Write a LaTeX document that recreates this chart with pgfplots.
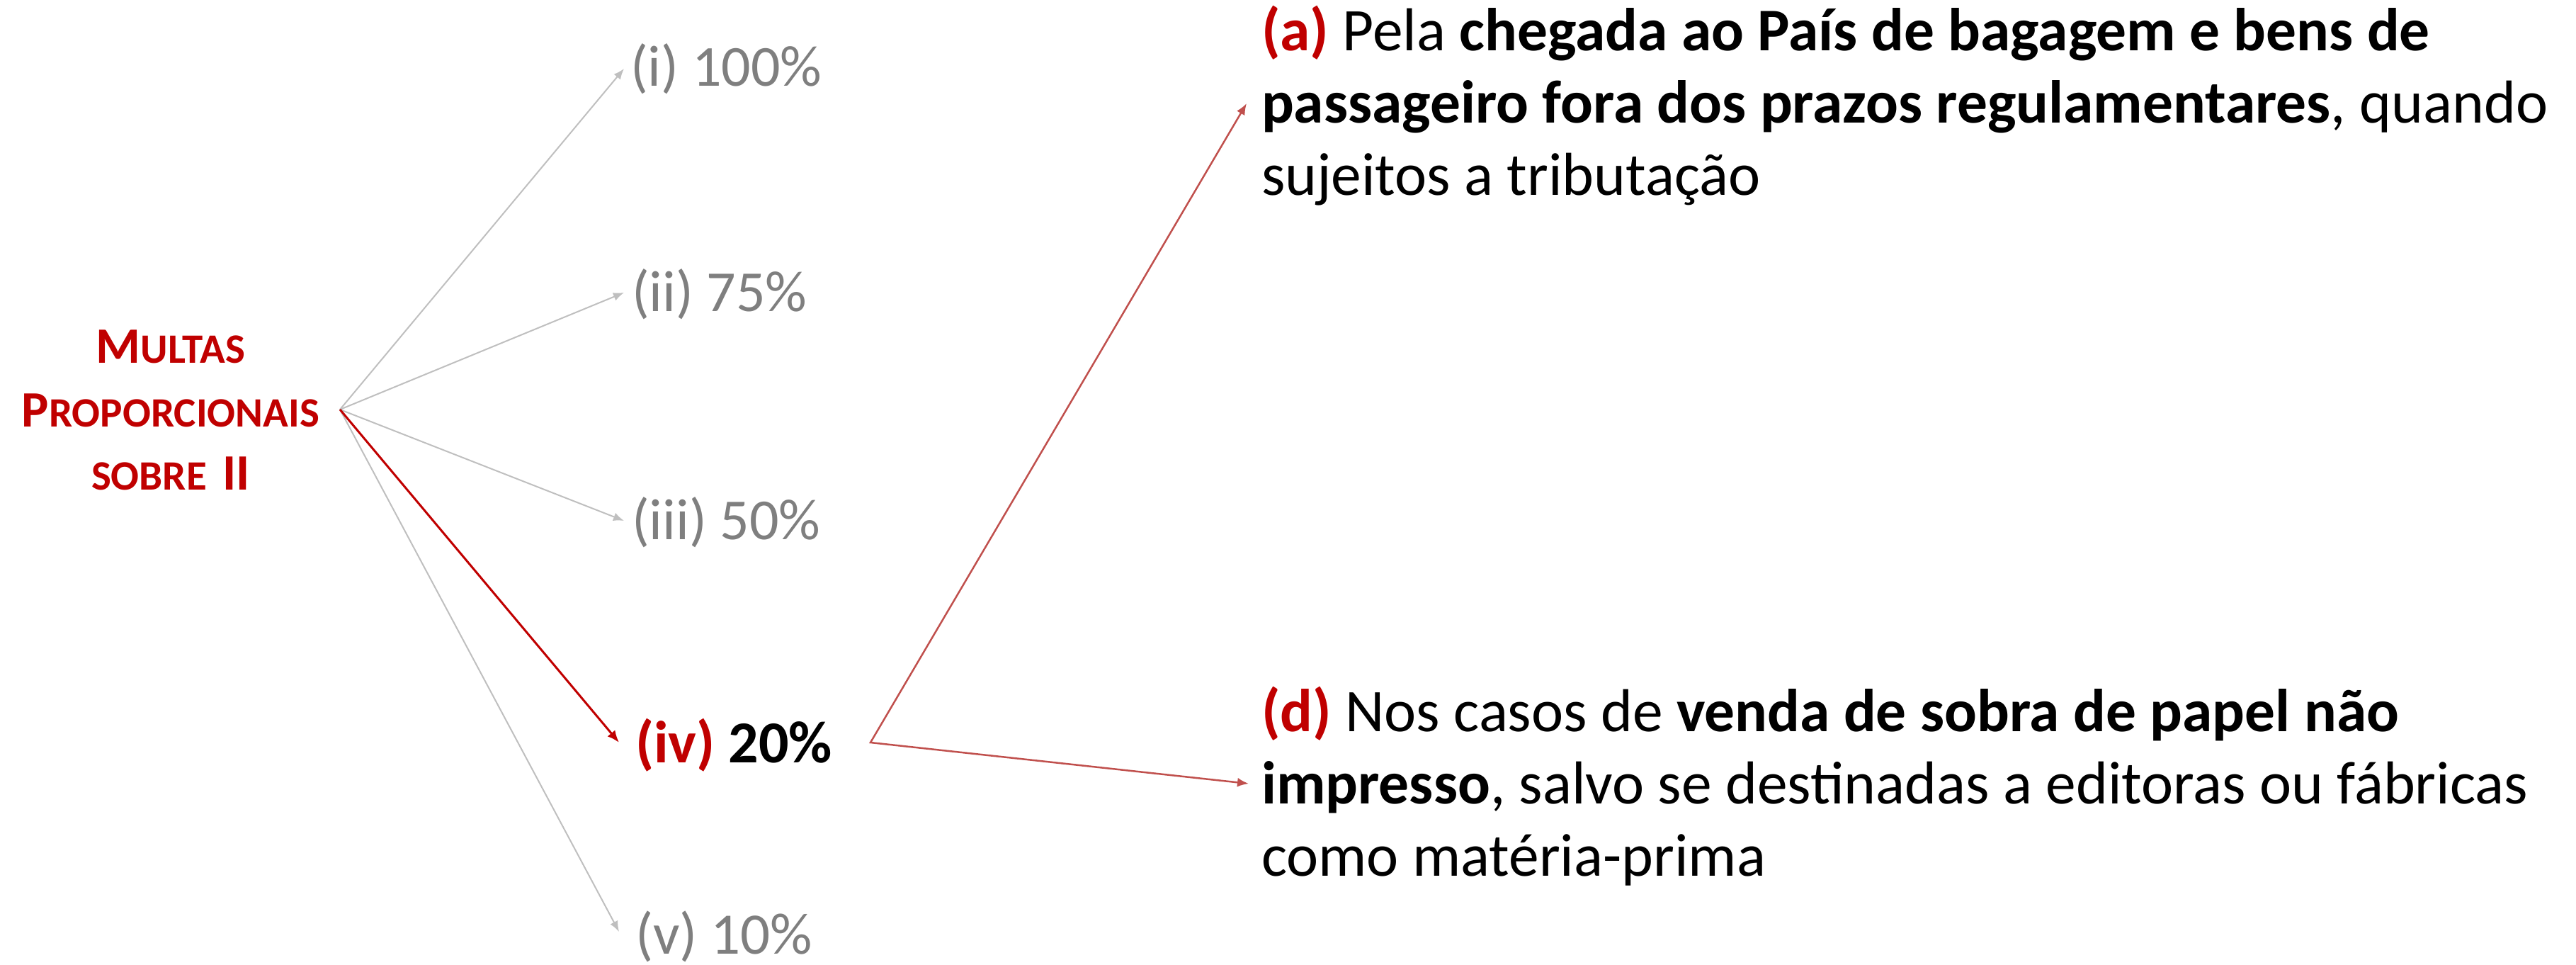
\documentclass[border=0pt]{standalone}
\usepackage{pgfplots}
\pgfplotsset{compat=1.18}
\usepackage{fontspec}
\setmainfont{Carlito}
\usetikzlibrary{arrows.meta}
\definecolor{darkred}{HTML}{C00000}
\definecolor{lightred}{HTML}{C0504D}
\definecolor{txtgray}{HTML}{7F7F7F}
\definecolor{arrgray}{HTML}{BFBFBF}
\newcommand{\bigc}[1]{{\fontsize{7.2}{8}\selectfont #1}}
\newcommand{\smc}[1]{{\fontsize{5.9}{7}\selectfont #1}}
\begin{document}
\begin{tikzpicture}
\useasboundingbox (0,0) rectangle (363.7pt,136.2pt);
\begin{axis}[at={(0,0)}, anchor=south west,
  width=363.7pt, height=136.2pt, scale only axis, hide axis, clip=false,
  xmin=0, xmax=3637, ymin=0, ymax=1362, y dir=reverse]
% gray arrows
\addplot[arrgray, line width=0.2pt, -{Latex[length=1.5pt,width=1.2pt]}] coordinates {(480,578) (881,97)};
\addplot[arrgray, line width=0.2pt, -{Latex[length=1.5pt,width=1.2pt]}] coordinates {(480,578) (881,413)};
\addplot[arrgray, line width=0.2pt, -{Latex[length=1.5pt,width=1.2pt]}] coordinates {(480,578) (881,735)};
\addplot[arrgray, line width=0.2pt, -{Latex[length=1.5pt,width=1.2pt]}] coordinates {(480,578) (874,1315)};
% red main arrow
\addplot[darkred, line width=0.3pt, -{Latex[length=1.7pt,width=1.4pt]}] coordinates {(480,578) (874,1048)};
% branch
\addplot[lightred, line width=0.25pt, {Latex[length=1.6pt,width=1.3pt]}-{Latex[length=1.6pt,width=1.3pt]}] coordinates {(1760,146) (1229,1048) (1763,1106)};
% left title
\node[anchor=base, inner sep=0, darkred, font=\bfseries] at (axis cs:241,513) {\bigc{M}\smc{ULTAS}};
\node[anchor=base, inner sep=0, darkred, font=\bfseries] at (axis cs:241,602) {\bigc{P}\smc{ROPORCIONAIS}};
\node[anchor=base, inner sep=0, darkred, font=\bfseries] at (axis cs:241,692) {\smc{SOBRE} \bigc{II}};
% labels
\node[anchor=base west, inner sep=0, txtgray, font=\fontsize{8.2}{9}\selectfont] at (axis cs:888,122) {(i) 100\%};
\node[anchor=base west, inner sep=0, txtgray, font=\fontsize{8.2}{9}\selectfont] at (axis cs:890,440) {(ii) 75\%};
\node[anchor=base west, inner sep=0, txtgray, font=\fontsize{8.2}{9}\selectfont] at (axis cs:890,761) {(iii) 50\%};
\node[anchor=base west, inner sep=0, font=\fontsize{8.4}{9}\selectfont\bfseries] at (axis cs:895,1076) {\textcolor{darkred}{(iv)} 20\%};
\node[anchor=base west, inner sep=0, txtgray, font=\fontsize{8.3}{9}\selectfont] at (axis cs:895,1346) {(v) 10\%};
% text (a)
\node[anchor=base west, inner sep=0, font=\fontsize{8.55}{10}\selectfont] at (axis cs:1779,72) {\textbf{\textcolor{darkred}{(a)}} Pela \textbf{chegada ao País de bagagem e bens de}};
\node[anchor=base west, inner sep=0, font=\fontsize{8.55}{10}\selectfont] at (axis cs:1779,174) {\textbf{passageiro fora dos prazos regulamentares}, quando};
\node[anchor=base west, inner sep=0, font=\fontsize{8.55}{10}\selectfont] at (axis cs:1779,276) {sujeitos a tributação};
% text (d)
\node[anchor=base west, inner sep=0, font=\fontsize{8.55}{10}\selectfont] at (axis cs:1779,1032) {\textbf{\textcolor{darkred}{(d)}} Nos casos de \textbf{venda de sobra de papel não}};
\node[anchor=base west, inner sep=0, font=\fontsize{8.55}{10}\selectfont] at (axis cs:1779,1134) {\textbf{impresso}, salvo se destinadas a editoras ou fábricas};
\node[anchor=base west, inner sep=0, font=\fontsize{8.55}{10}\selectfont] at (axis cs:1779,1236) {como matéria-prima};
\end{axis}
\end{tikzpicture}
\end{document}
